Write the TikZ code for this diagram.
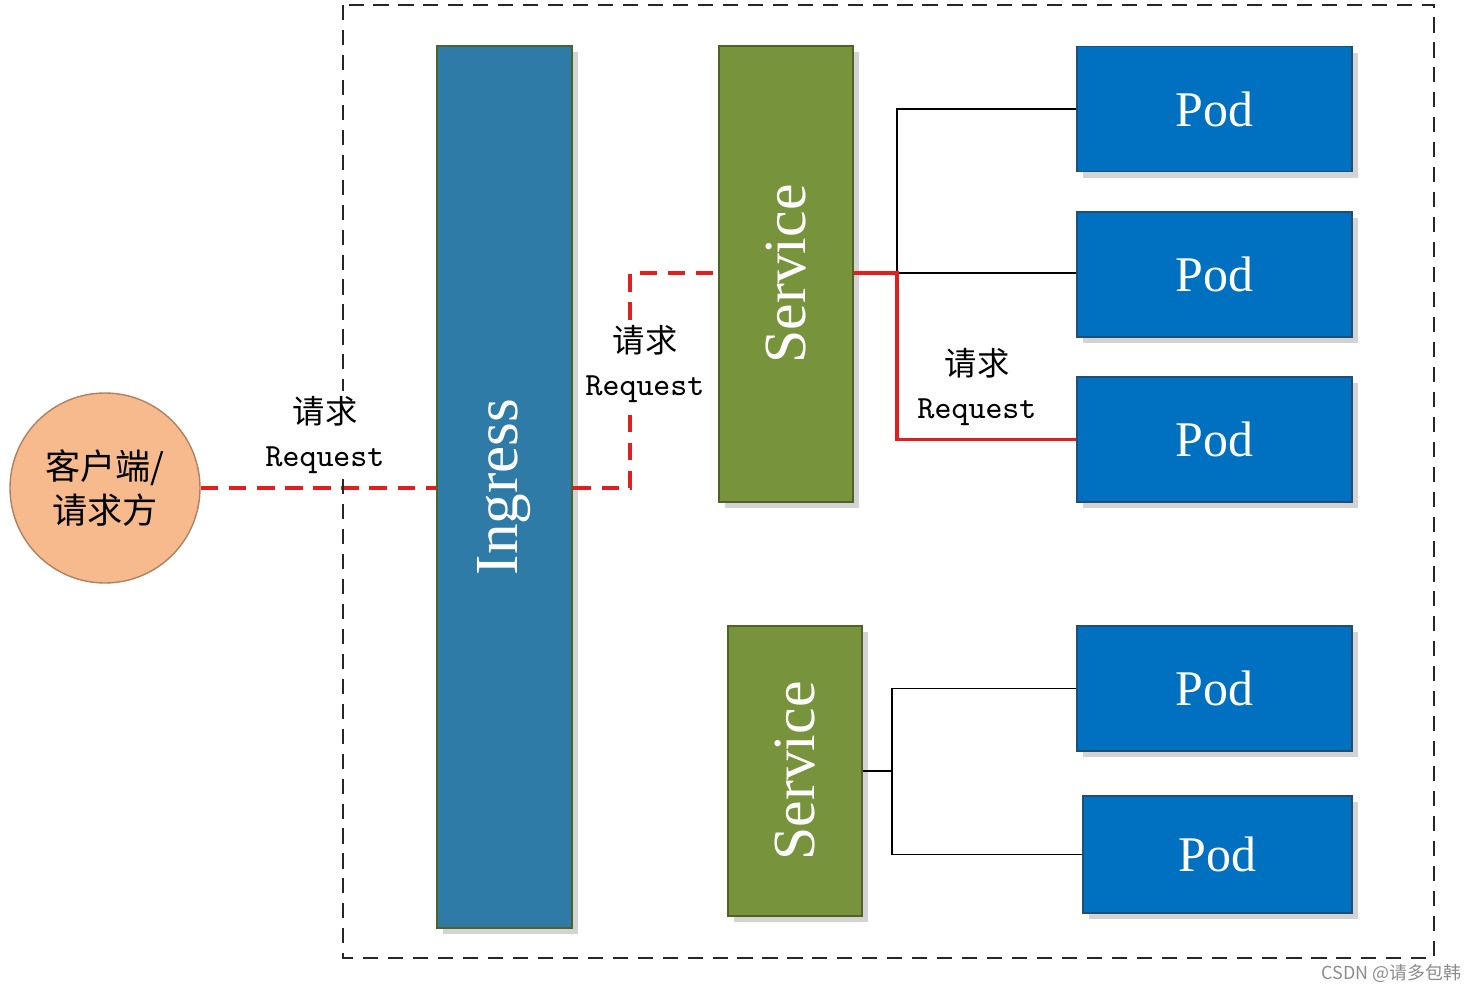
\documentclass[tikz,border=0pt]{standalone}
\usepackage{fontspec}
\setmainfont{Liberation Serif}
\newfontfamily\cjkfont{Noto Sans CJK SC}
\usetikzlibrary{shadows}
\definecolor{ingblue}{HTML}{2E7BA8}
\definecolor{svcgreen}{HTML}{77933C}
\definecolor{olive}{HTML}{4F6228}
\definecolor{podblue}{HTML}{0070C0}
\definecolor{podedge}{HTML}{1F4E79}
\definecolor{peach}{HTML}{F6BA8C}
\definecolor{peachedge}{HTML}{B08060}
\definecolor{reqred}{HTML}{E41E1E}
\tikzset{
  boxshadow/.style={drop shadow={opacity=0.35,shadow xshift=0.6mm,shadow yshift=-0.6mm}},
  ingbox/.style={draw=olive,line width=0.8pt,fill=ingblue,boxshadow,text=white,
    minimum width=13.5mm,minimum height=88.2mm,inner sep=0pt,font=\fontsize{17.4}{20}\selectfont},
  svcbox/.style={draw=olive,line width=0.8pt,fill=svcgreen,boxshadow,text=white,
    minimum width=13.4mm,inner sep=0pt,font=\fontsize{17}{20}\selectfont},
  podbox/.style={draw=podedge,line width=0.4pt,fill=podblue,boxshadow,text=white,
    minimum width=27.5mm,minimum height=12.5mm,inner sep=0pt,font=\fontsize{14.2}{16}\selectfont},
  client/.style={circle,draw=peachedge,line width=0.4pt,fill=peach,minimum size=19mm,
    inner sep=0pt,align=center,font=\cjkfont\fontsize{10}{12.4}\selectfont},
  reqlabel/.style={align=center,inner sep=1.5pt,fill=white,font=\fontsize{9.2}{12.5}\selectfont},
  reqdash/.style={draw=reqred,line width=1.1pt,dash pattern=on 5pt off 3pt},
  reqline/.style={draw=reqred,line width=0.9pt},
  link/.style={draw=black,line width=0.45pt},
  frame/.style={draw=black!85,line width=0.55pt,dash pattern=on 4.3pt off 2.8pt}
}
\begin{document}
\begin{tikzpicture}[x=0.1mm,y=-0.1mm]
\useasboundingbox (0,0) rectangle (1477,992);
% client
\node[client] (client) at (105,488) {客户端/\\请求方};
% ingress
\node[ingbox] (ing) at (504.5,487) {\rotatebox{90}{Ingress}};
% services
\node[svcbox,minimum height=45.6mm] (svc1) at (786,274) {\rotatebox{90}{Service}};
\node[svcbox,minimum height=29mm] (svc2) at (795,771) {\rotatebox{90}{Service}};
% pods
\node[podbox] (pod1) at (1214.5,109) {Pod};
\node[podbox] (pod2) at (1214.5,274.5) {Pod};
\node[podbox] (pod3) at (1214.5,439.5) {Pod};
\node[podbox] (pod4) at (1214.5,688.5) {Pod};
\node[podbox,minimum width=26.9mm,minimum height=11.7mm] (pod5) at (1217.5,854.5) {Pod};
% junction coordinates
\coordinate (bend1) at (630,273);
\coordinate (junc1) at (897,273);
\coordinate (junc2) at (892,771);
% black links
\draw[link] (junc1) |- (pod1.west);
\draw[link] (junc1) -- (pod2.west |- junc1);
\draw[link] (svc2.east |- junc2) -- (junc2);
\draw[link] (junc2) |- (pod4.west);
\draw[link] (junc2) |- (pod5.west);
% request path
\draw[reqdash] (client.east) -- (client.east -| ing.west);
\draw[reqdash] (ing.east |- client.east) -| (bend1) -- (bend1 -| svc1.west);
\draw[reqline] (svc1.east |- junc1) -- (junc1) |- (pod3.west);
% outer dashed frame
\draw[frame] (343,5) rectangle (1434,958);
% labels
\node[reqlabel] (lab1) at (325,435) {{\cjkfont 请求}\\{\ttfamily Request}};
\node[reqlabel] (lab2) at (645,364) {{\cjkfont 请求}\\{\ttfamily Request}};
\node[reqlabel] (lab3) at (977,387) {{\cjkfont 请求}\\{\ttfamily Request}};
% watermark
\node[text=black!45,font=\cjkfont\fontsize{5.1}{6}\selectfont,anchor=east,inner sep=0pt] (wm) at (1462,973) {CSDN @请多包韩};
\end{tikzpicture}
\end{document}
